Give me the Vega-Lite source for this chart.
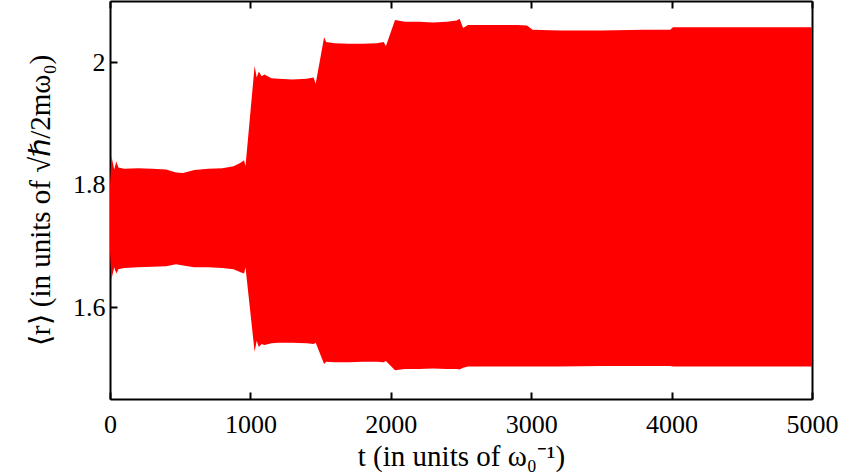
{
  "$schema": "https://vega.github.io/schema/vega-lite/v6.json",
  "autosize": {"type": "none"},
  "padding": {"left": 110, "top": 1, "right": 33, "bottom": 76},
  "width": 702,
  "height": 398,
  "background": "white",
  "config": {
    "view": {"stroke": null},
    "font": "Liberation Serif",
    "axis": {
      "domainColor": "black",
      "tickColor": "black",
      "domainWidth": 2,
      "tickWidth": 2,
      "grid": false,
      "zindex": 1
    }
  },
  "data": {
    "values": [
      {"t": 0, "lo": 1.69, "hi": 1.80},
      {"t": 10, "lo": 1.645, "hi": 1.847},
      {"t": 30, "lo": 1.665, "hi": 1.825},
      {"t": 45, "lo": 1.655, "hi": 1.838},
      {"t": 60, "lo": 1.662, "hi": 1.828},
      {"t": 100, "lo": 1.664, "hi": 1.826},
      {"t": 200, "lo": 1.665, "hi": 1.827},
      {"t": 300, "lo": 1.666, "hi": 1.826},
      {"t": 400, "lo": 1.667, "hi": 1.825},
      {"t": 470, "lo": 1.670, "hi": 1.820},
      {"t": 520, "lo": 1.668, "hi": 1.819},
      {"t": 600, "lo": 1.665, "hi": 1.824},
      {"t": 700, "lo": 1.665, "hi": 1.826},
      {"t": 800, "lo": 1.664, "hi": 1.827},
      {"t": 880, "lo": 1.662, "hi": 1.830},
      {"t": 930, "lo": 1.657, "hi": 1.836},
      {"t": 955, "lo": 1.655, "hi": 1.840},
      {"t": 965, "lo": 1.665, "hi": 1.830},
      {"t": 1030, "lo": 1.527, "hi": 1.994},
      {"t": 1045, "lo": 1.545, "hi": 1.975},
      {"t": 1060, "lo": 1.535, "hi": 1.985},
      {"t": 1080, "lo": 1.540, "hi": 1.977},
      {"t": 1100, "lo": 1.538, "hi": 1.980},
      {"t": 1150, "lo": 1.541, "hi": 1.974},
      {"t": 1200, "lo": 1.542, "hi": 1.973},
      {"t": 1300, "lo": 1.542, "hi": 1.972},
      {"t": 1400, "lo": 1.541, "hi": 1.973},
      {"t": 1450, "lo": 1.540, "hi": 1.975},
      {"t": 1465, "lo": 1.542, "hi": 1.965},
      {"t": 1525, "lo": 1.507, "hi": 2.041},
      {"t": 1540, "lo": 1.511, "hi": 2.033},
      {"t": 1600, "lo": 1.510, "hi": 2.031},
      {"t": 1700, "lo": 1.510, "hi": 2.030},
      {"t": 1800, "lo": 1.511, "hi": 2.030},
      {"t": 1900, "lo": 1.511, "hi": 2.031},
      {"t": 1950, "lo": 1.510, "hi": 2.033},
      {"t": 1965, "lo": 1.512, "hi": 2.026},
      {"t": 2030, "lo": 1.497, "hi": 2.069},
      {"t": 2100, "lo": 1.499, "hi": 2.066},
      {"t": 2200, "lo": 1.499, "hi": 2.066},
      {"t": 2300, "lo": 1.500, "hi": 2.065},
      {"t": 2400, "lo": 1.499, "hi": 2.066},
      {"t": 2470, "lo": 1.499, "hi": 2.068},
      {"t": 2490, "lo": 1.498, "hi": 2.071},
      {"t": 2515, "lo": 1.501, "hi": 2.056},
      {"t": 2550, "lo": 1.503, "hi": 2.061},
      {"t": 2700, "lo": 1.503, "hi": 2.061},
      {"t": 2900, "lo": 1.503, "hi": 2.061},
      {"t": 2970, "lo": 1.503, "hi": 2.060},
      {"t": 3010, "lo": 1.503, "hi": 2.053},
      {"t": 3200, "lo": 1.503, "hi": 2.052},
      {"t": 3500, "lo": 1.504, "hi": 2.052},
      {"t": 3800, "lo": 1.504, "hi": 2.053},
      {"t": 3990, "lo": 1.504, "hi": 2.053},
      {"t": 4010, "lo": 1.503, "hi": 2.057},
      {"t": 4500, "lo": 1.503, "hi": 2.057},
      {"t": 5000, "lo": 1.503, "hi": 2.057}
    ]
  },
  "layer": [
    {
      "mark": {"type": "area", "color": "#ff0000", "interpolate": "linear"},
      "encoding": {
        "x": {
          "field": "t", "type": "quantitative",
          "scale": {"domain": [0, 5000], "nice": false, "zero": false},
          "axis": {
            "orient": "bottom", "values": [0, 1000, 2000, 3000, 4000, 5000], "format": "d",
            "tickSize": -7, "labelPadding": 19, "labelFlush": false,
            "labelFont": "Liberation Serif", "labelFontSize": 26, "labelColor": "black",
            "titleFont": "Liberation Serif", "titleFontSize": 29, "titleColor": "black", "titleFontWeight": "normal",
            "title": "t (in units of ω₀⁻¹)", "titlePadding": 5
          }
        },
        "y": {
          "field": "lo", "type": "quantitative",
          "scale": {"domain": [1.45, 2.1], "nice": false, "zero": false},
          "axis": {
            "orient": "left", "values": [1.6, 1.8, 2.0], "format": ".1~f",
            "tickSize": -7, "labelPadding": 12,
            "labelFont": "Liberation Serif", "labelFontSize": 26, "labelColor": "black",
            "titleFont": "Liberation Serif", "titleFontSize": 29, "titleColor": "black", "titleFontWeight": "normal",
            "title": "⟨r⟩ (in units of √ℏ/2mω₀)", "titlePadding": 17
          }
        },
        "y2": {"field": "hi"}
      }
    },
    {
      "mark": {"type": "area", "opacity": 0},
      "encoding": {
        "x": {
          "field": "t", "type": "quantitative",
          "axis": {
            "orient": "top", "values": [0, 1000, 2000, 3000, 4000, 5000],
            "tickSize": -7, "labels": false, "title": null
          }
        },
        "y": {
          "field": "lo", "type": "quantitative",
          "axis": {
            "orient": "right", "ticks": false, "labels": false, "title": null
          }
        },
        "y2": {"field": "hi"}
      }
    }
  ],
  "resolve": {"axis": {"x": "independent", "y": "independent"}}
}
